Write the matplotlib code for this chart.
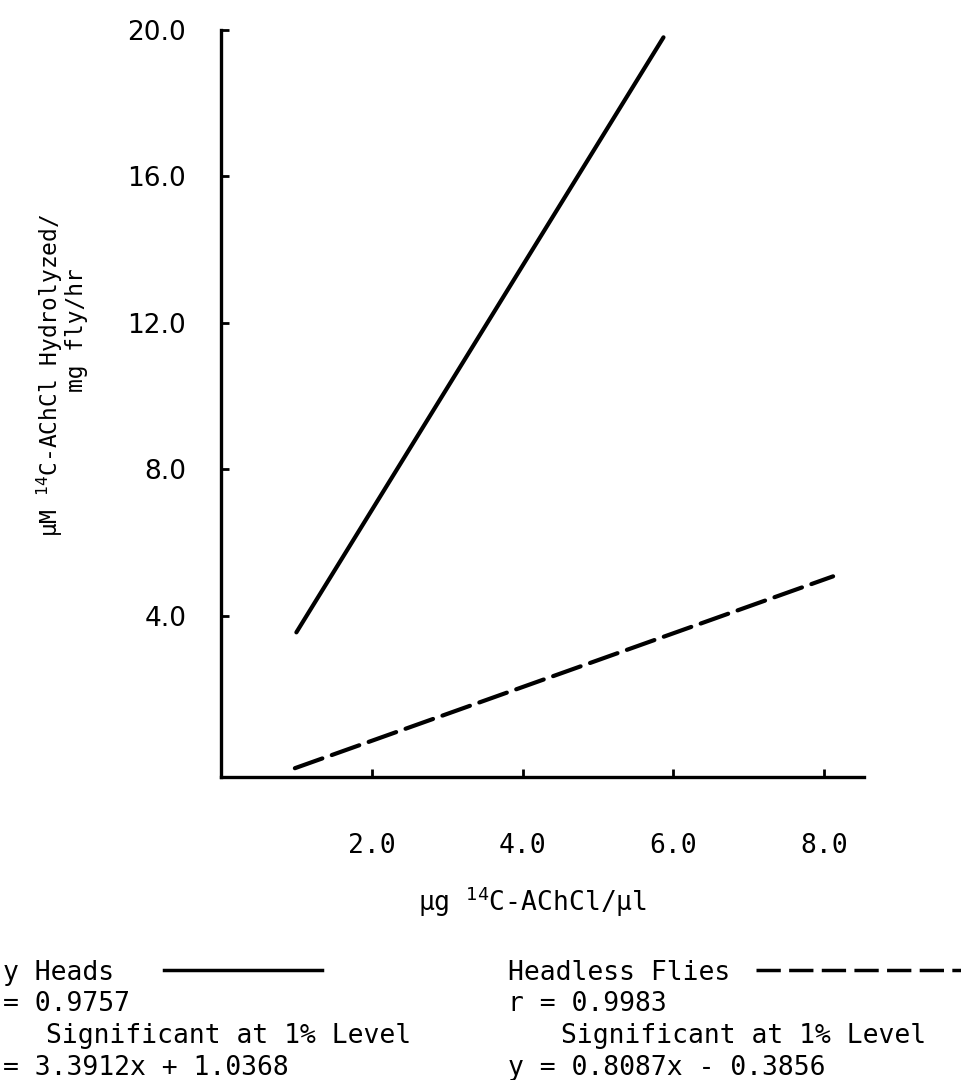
import numpy as np
import matplotlib.pyplot as plt

plt.rcParams['mathtext.fontset'] = 'custom'
plt.rcParams['mathtext.rm'] = 'DejaVu Sans Mono'
plt.rcParams['mathtext.it'] = 'DejaVu Sans Mono'

# lines as drawn on the original figure (end points)
heads_x = [1.0, 5.87]
heads_y = [3.55, 19.8]
headless_x = [0.98, 8.12]
headless_y = [-0.16, 5.08]

xticks = [2.0, 4.0, 6.0, 8.0]
yticks = [4.0, 8.0, 12.0, 16.0, 20.0]

# typed key under the chart; the scan cuts off the left edge of the first column
left_text = ['y Heads', '= 0.9757', 'Significant at 1% Level', '= 3.3912x + 1.0368']
right_text = ['Headless Flies', 'r = 0.9983', 'Significant at 1% Level', 'y = 0.8087x - 0.3856']

W, H = 961, 1080
fig = plt.figure(figsize=(W / 100, H / 100), dpi=100)
ax = fig.add_axes([221 / W, 1 - 777 / H, (864 - 221) / W, (777 - 30) / H])

ax.plot(heads_x, heads_y, color='black', lw=3.0, solid_capstyle='round')
ax.plot(headless_x, headless_y, color='black', lw=3.0, dashes=(7, 2.4), dash_capstyle='round')

ax.set_xlim(0, 8.53)
ax.set_ylim(-0.4, 20)
for s in ['top', 'right']:
    ax.spines[s].set_visible(False)
for s in ['left', 'bottom']:
    ax.spines[s].set_linewidth(2.4)

ax.set_xticks(xticks)
ax.set_xticklabels(['%.1f' % v for v in xticks], family='DejaVu Sans Mono', fontsize=19)
ax.set_yticks(yticks)
ax.set_yticklabels(['%.1f' % v for v in yticks], family='DejaVu Sans', fontsize=19)
ax.tick_params(axis='x', direction='in', length=6, width=2, pad=40)
ax.tick_params(axis='y', direction='in', length=6, width=2, pad=25)

mono = 'DejaVu Sans Mono'
fig.text(533 / W, 1 - 911 / H, r'μg $\mathregular{^{14}}$C-AChCl/μl', family=mono,
         fontsize=19, ha='center', va='baseline')

fig.text(58 / W, 1 - 375 / H, r'μM $\mathregular{^{14}}$C-AChCl Hydrolyzed/', family=mono,
         fontsize=16.5, rotation=90, rotation_mode='anchor', ha='center', va='baseline')
fig.text(83 / W, 1 - 330 / H, 'mg fly/hr', family=mono,
         fontsize=16.5, rotation=90, rotation_mode='anchor', ha='center', va='baseline')

rows = [980, 1011, 1043, 1075]
left_x = [3, 3, 46, 3]
right_x = [508, 508, 561, 508]
for i in range(4):
    fig.text(left_x[i] / W, 1 - rows[i] / H, left_text[i], family=mono, fontsize=19, va='baseline')
    fig.text(right_x[i] / W, 1 - rows[i] / H, right_text[i], family=mono, fontsize=19, va='baseline')

fig.add_artist(plt.Line2D([164 / W, 322 / W], [1 - 970 / H, 1 - 970 / H], color='black', lw=2.5))
fig.add_artist(plt.Line2D([756 / W, 965 / W], [1 - 970 / H, 1 - 970 / H], color='black', lw=2.5,
                          dashes=(7, 2.4)))

fig.savefig('out.png', dpi=100)
